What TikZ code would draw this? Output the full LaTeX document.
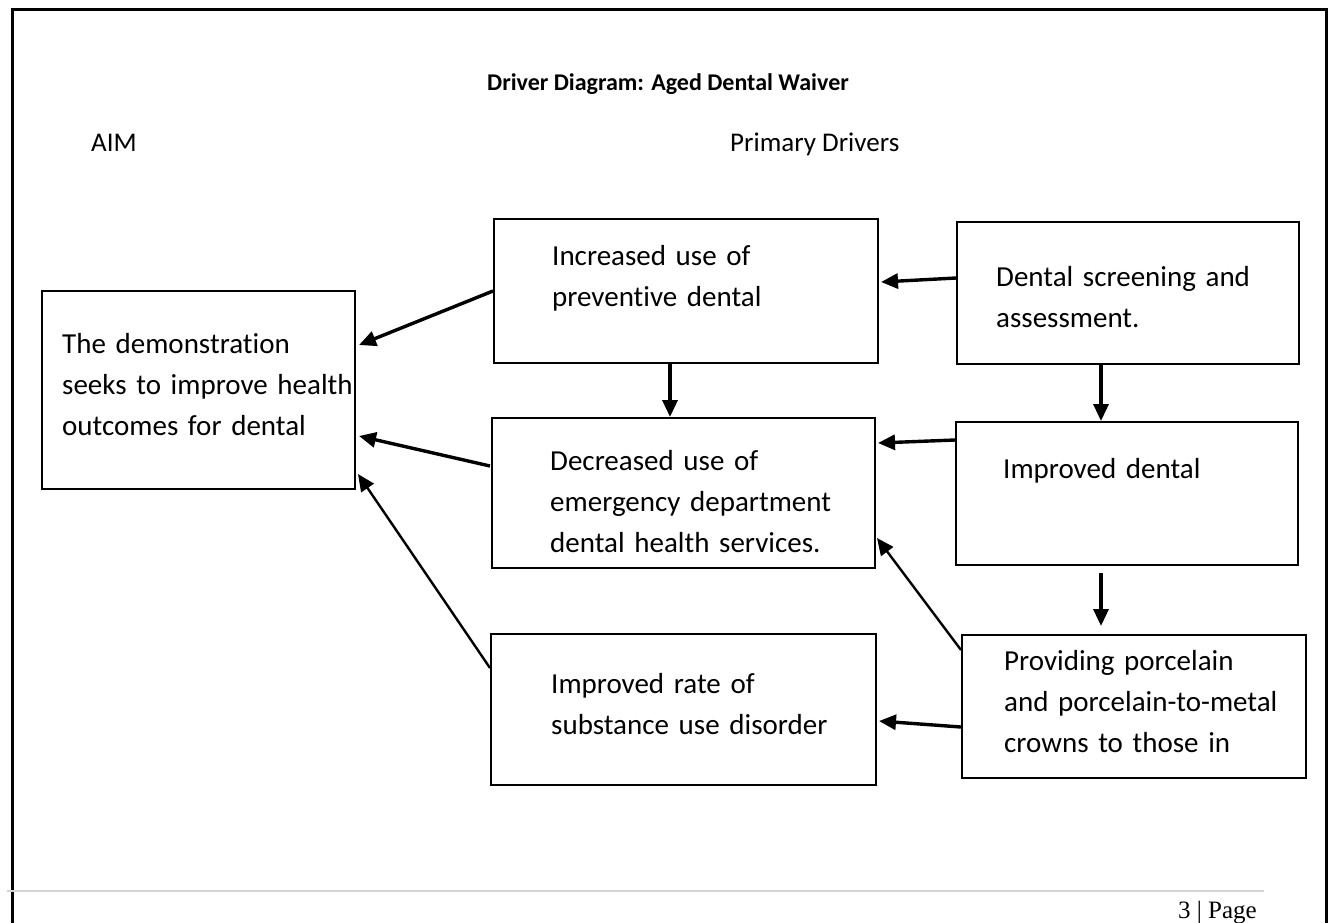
\documentclass[tikz,border=0pt]{standalone}
\usepackage{fontspec}
\setmainfont{Carlito}[Ligatures=NoCommon]
\newfontfamily\pagefont{Liberation Serif}
\usetikzlibrary{arrows.meta,calc}
\begin{document}
\begin{tikzpicture}[x=1pt,y=-1pt,
  box/.style={draw=black,line width=2pt,rectangle,inner sep=0pt,anchor=north west},
  txt/.style={anchor=base west,inner sep=0pt,align=left,text width=340pt,font=\fontsize{29}{41}\selectfont},
  arr/.style={line width=3.4pt,-{Triangle[length=17pt,width=15pt]}},
  thin arr/.style={line width=2.4pt,-{Triangle[length=17pt,width=15pt]}}]
\useasboundingbox (0,0) rectangle (1332,922);
\begin{scope}
\clip (0,0) rectangle (1332,922);
\draw[line width=3pt] (12,940) -- (12,9) -- (1326,9) -- (1326,940);
\end{scope}
\draw[line width=2pt,color=black!17] (7,891) -- (1264,891);
\node[anchor=base east,inner sep=0pt,font=\pagefont\fontsize{25}{28}\selectfont] (pg) at (1257,918) {3 | Page};

\node[anchor=base,inner sep=0pt,font=\bfseries\fontsize{24}{28}\selectfont] (title) at (668,90) {Driver Diagram: Aged Dental Waiver};
\node[anchor=base west,inner sep=0pt,font=\fontsize{27}{30}\selectfont] (aimlab) at (91,151) {AIM};
\node[anchor=base west,inner sep=0pt,font=\fontsize{27}{30}\selectfont] (pdlab) at (730,151) {Primary Drivers};

\node[box,minimum width=313pt,minimum height=198pt] (aim) at (41,290) {};
\node[box,minimum width=384pt,minimum height=144pt] (inc) at (493,218) {};
\node[box,minimum width=342pt,minimum height=142pt] (scr) at (956,221) {};
\node[box,minimum width=383pt,minimum height=150pt] (dec) at (491,417) {};
\node[box,minimum width=342pt,minimum height=143pt] (imp) at (955,421) {};
\node[box,minimum width=385pt,minimum height=151pt] (rate) at (490,633) {};
\node[box,minimum width=344pt,minimum height=143pt] (prov) at (961,634) {};

\node[txt] (aimt) at (62,353) {The demonstration\\seeks to improve health\\outcomes for dental};
\node[txt] (inct) at (552,265) {Increased use of\\preventive dental};
\node[txt] (scrt) at (996,286) {Dental screening and\\assessment.};
\node[txt] (dect) at (550,470) {Decreased use of\\emergency department\\dental health services.};
\node[txt] (impt) at (1003,478) {Improved dental};
\node[txt] (ratet) at (551,693) {Improved rate of\\substance use disorder};
\node[txt] (provt) at (1004,670) {Providing porcelain\\and porcelain-to-metal\\crowns to those in};

\draw[arr] ($(inc.north west)+(0,73)$) -- ($(aim.north east)+(3,55)$);
\draw[arr] ($(dec.north west)+(-1,49)$) -- ($(aim.north east)+(3,146)$);
\draw[thin arr] ($(rate.north west)+(0,35)$) -- ($(aim.north east)+(2,184)$);
\draw[arr] ($(scr.north west)+(0,57)$) -- ($(inc.north east)+(2,64)$);
\draw[arr] ($(imp.north west)+(0,19)$) -- ($(dec.north east)+(2,26)$);
\draw[thin arr] ($(prov.north west)+(0,16)$) -- ($(dec.north east)+(1,121)$);
\draw[arr] ($(prov.north west)+(0,93)$) -- ($(rate.north east)+(2,88)$);
\coordinate (a8) at ($(inc.south)+(-16,0)$);
\draw[arr] (a8) -- (a8 |- dec.north);
\coordinate (a9) at ($(scr.south)+(-27,0)$);
\draw[arr] (a9) -- (a9 |- imp.north);
\coordinate (a10) at ($(imp.south)+(-26,7)$);
\coordinate (a10e) at ($(a10 |- prov.north)+(0,-8)$);
\draw[arr] (a10) -- (a10e);
\end{tikzpicture}
\end{document}
